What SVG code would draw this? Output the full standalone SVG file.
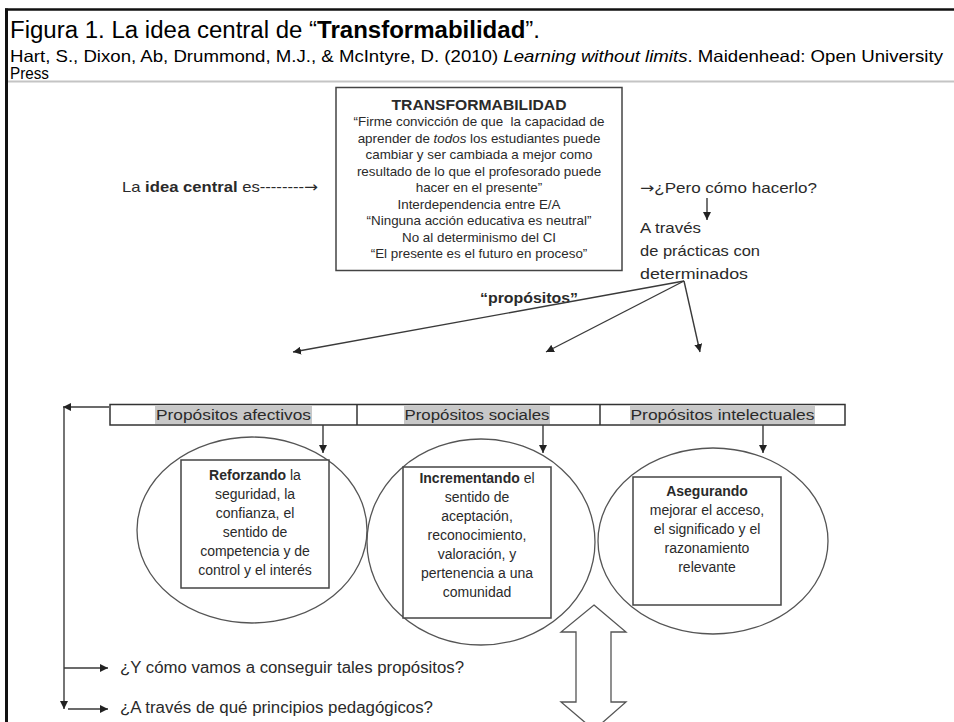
<svg xmlns="http://www.w3.org/2000/svg" width="954" height="722" viewBox="0 0 954 722">
<defs>
<style>
text{font-family:"Liberation Sans",Arial,sans-serif;fill:#2a2a2a}
.hdr{font-family:"Liberation Sans",Arial,sans-serif;fill:#000}
.arr{font-family:"DejaVu Sans",sans-serif}
.box{fill:#fff;stroke:#444;stroke-width:1.5}
.ell{fill:none;stroke:#555;stroke-width:1.3}
.bt{font-size:13.4px;text-anchor:middle}
.ct{font-size:14px;text-anchor:middle}
.conn line{stroke:#3a3a3a;stroke-width:1.4;fill:none}
.hl{fill:#c8c8c8}
</style>
<marker id="ah" viewBox="0 0 10 10" refX="10" refY="5" markerWidth="8" markerHeight="8" markerUnits="userSpaceOnUse" orient="auto">
<path d="M0,0 L10,5 L0,10 z" fill="#222"/>
</marker>
</defs>
<rect width="954" height="722" fill="#fff"/>
<g id="frame">
<line x1="5" y1="9.5" x2="954" y2="9.5" stroke="#111" stroke-width="2.5"/>
<line x1="6.5" y1="8.5" x2="6.5" y2="722" stroke="#111" stroke-width="3"/>
<line x1="8" y1="81.5" x2="954" y2="81.5" stroke="#c4c4c4" stroke-width="2"/>
</g>
<g id="title">
<text class="hdr" x="10" y="38" font-size="23" textLength="530" lengthAdjust="spacingAndGlyphs">Figura 1. La idea central de “<tspan font-weight="bold">Transformabilidad</tspan>”.</text>
<text class="hdr" x="10" y="62" font-size="16.5" textLength="933" lengthAdjust="spacingAndGlyphs">Hart, S., Dixon, Ab, Drummond, M.J., &amp; McIntyre, D. (2010) <tspan font-style="italic">Learning without limits</tspan>. Maidenhead: Open University</text>
<text class="hdr" x="10" y="79" font-size="16.5" textLength="39" lengthAdjust="spacingAndGlyphs">Press</text>
</g>
<g id="idea-central">
<text x="122" y="192" font-size="15" textLength="196" lengthAdjust="spacingAndGlyphs">La <tspan font-weight="bold">idea central</tspan> es--------<tspan class="arr">→</tspan></text>
</g>
<g id="transformabilidad">
<rect class="box" x="336" y="87.5" width="286" height="183"/>
<text x="479" y="110" font-size="14" font-weight="bold" text-anchor="middle" textLength="175" lengthAdjust="spacingAndGlyphs">TRANSFORMABILIDAD</text>
<text class="bt" x="479" y="126" xml:space="preserve">“Firme convicción de que  la capacidad de</text>
<text class="bt" x="479" y="142.5">aprender de <tspan font-style="italic">todos</tspan> los estudiantes puede</text>
<text class="bt" x="479" y="159">cambiar y ser cambiada a mejor como</text>
<text class="bt" x="479" y="175.5">resultado de lo que el profesorado puede</text>
<text class="bt" x="479" y="192">hacer en el presente”</text>
<text class="bt" x="479" y="208.5">Interdependencia entre E/A</text>
<text class="bt" x="479" y="225">“Ninguna acción educativa es neutral”</text>
<text class="bt" x="479" y="241.5">No al determinismo del CI</text>
<text class="bt" x="479" y="258">“El presente es el futuro en proceso”</text>
</g>
<g id="pero-como">
<text x="640" y="193" font-size="15" textLength="177" lengthAdjust="spacingAndGlyphs"><tspan class="arr">→</tspan>¿Pero cómo hacerlo?</text>
</g>
<g id="a-traves">
<text x="640" y="233" font-size="15" textLength="61" lengthAdjust="spacingAndGlyphs">A través</text>
<text x="640" y="256" font-size="15" textLength="120" lengthAdjust="spacingAndGlyphs">de prácticas con</text>
<text x="640" y="279" font-size="15" textLength="108" lengthAdjust="spacingAndGlyphs">determinados</text>
</g>
<g id="propositos-label">
<text x="480" y="303" font-size="15" font-weight="bold" textLength="98" lengthAdjust="spacingAndGlyphs">“propósitos”</text>
</g>
<g id="propositos-row">
<rect class="hl" x="155" y="406" width="157" height="18"/>
<rect class="hl" x="404" y="406" width="146" height="18"/>
<rect class="hl" x="630" y="406" width="185" height="18"/>
<rect x="110" y="404.5" width="735" height="20.5" fill="none" stroke="#333" stroke-width="1.5"/>
<line x1="357" y1="404.5" x2="357" y2="425" stroke="#333" stroke-width="1.5"/>
<line x1="600" y1="404.5" x2="600" y2="425" stroke="#333" stroke-width="1.5"/>
<text x="233.5" y="420" font-size="15.5" text-anchor="middle" textLength="155" lengthAdjust="spacingAndGlyphs">Propósitos afectivos</text>
<text x="477" y="420" font-size="15.5" text-anchor="middle" textLength="145" lengthAdjust="spacingAndGlyphs">Propósitos sociales</text>
<text x="722.5" y="420" font-size="15.5" text-anchor="middle" textLength="184" lengthAdjust="spacingAndGlyphs">Propósitos intelectuales</text>
</g>
<g id="afectivos">
<ellipse class="ell" cx="252" cy="530" rx="115" ry="93"/>
<rect class="box" x="181" y="460" width="148" height="128" fill="none"/>
<text class="ct" x="255" y="480"><tspan font-weight="bold">Reforzando</tspan> la</text>
<text class="ct" x="255" y="499">seguridad, la</text>
<text class="ct" x="255" y="518">confianza, el</text>
<text class="ct" x="255" y="537">sentido de</text>
<text class="ct" x="255" y="556">competencia y de</text>
<text class="ct" x="255" y="575">control y el interés</text>
</g>
<g id="sociales">
<ellipse class="ell" cx="481" cy="542" rx="114" ry="103"/>
<rect class="box" x="403" y="467" width="148" height="151" fill="none"/>
<text class="ct" x="477" y="483"><tspan font-weight="bold">Incrementando</tspan> el</text>
<text class="ct" x="477" y="502">sentido de</text>
<text class="ct" x="477" y="521">aceptación,</text>
<text class="ct" x="477" y="540">reconocimiento,</text>
<text class="ct" x="477" y="559">valoración, y</text>
<text class="ct" x="477" y="578">pertenencia a una</text>
<text class="ct" x="477" y="597">comunidad</text>
</g>
<g id="intelectuales">
<ellipse class="ell" cx="713" cy="541" rx="115" ry="93"/>
<rect class="box" x="633" y="477" width="148" height="128" fill="none"/>
<text class="ct" x="707" y="496" font-weight="bold">Asegurando</text>
<text class="ct" x="707" y="515">mejorar el acceso,</text>
<text class="ct" x="707" y="534">el significado y el</text>
<text class="ct" x="707" y="553">razonamiento</text>
<text class="ct" x="707" y="572">relevante</text>
</g>
<g id="preguntas">
<text x="120" y="673" font-size="16" textLength="344" lengthAdjust="spacingAndGlyphs">¿Y cómo vamos a conseguir tales propósitos?</text>
<text x="120" y="713" font-size="16" textLength="313" lengthAdjust="spacingAndGlyphs">¿A través de qué principios pedagógicos?</text>
</g>
<g id="doble-flecha">
<polygon points="594,605 626,632 611,632 611,702 626,702 594,730 561,702 576,702 576,632 561,632" fill="#fff" stroke="#555" stroke-width="1.3"/>
</g>
<g id="connectors" class="conn">
<line x1="684" y1="281" x2="293" y2="352" marker-end="url(#ah)"/>
<line x1="684" y1="281" x2="546" y2="352" marker-end="url(#ah)"/>
<line x1="684" y1="281" x2="700" y2="352" marker-end="url(#ah)"/>
<line x1="707" y1="198" x2="707" y2="220" marker-end="url(#ah)"/>
<line x1="323" y1="425" x2="323" y2="453" marker-end="url(#ah)"/>
<line x1="543" y1="425" x2="543" y2="453" marker-end="url(#ah)"/>
<line x1="763" y1="425" x2="763" y2="453" marker-end="url(#ah)"/>
<line x1="109" y1="407" x2="63" y2="407" marker-end="url(#ah)"/>
<line x1="64" y1="407" x2="64" y2="709" marker-end="url(#ah)"/>
<line x1="64" y1="668" x2="108" y2="668" marker-end="url(#ah)"/>
<line x1="68" y1="709" x2="108" y2="709" marker-end="url(#ah)"/>
</g>
</svg>
